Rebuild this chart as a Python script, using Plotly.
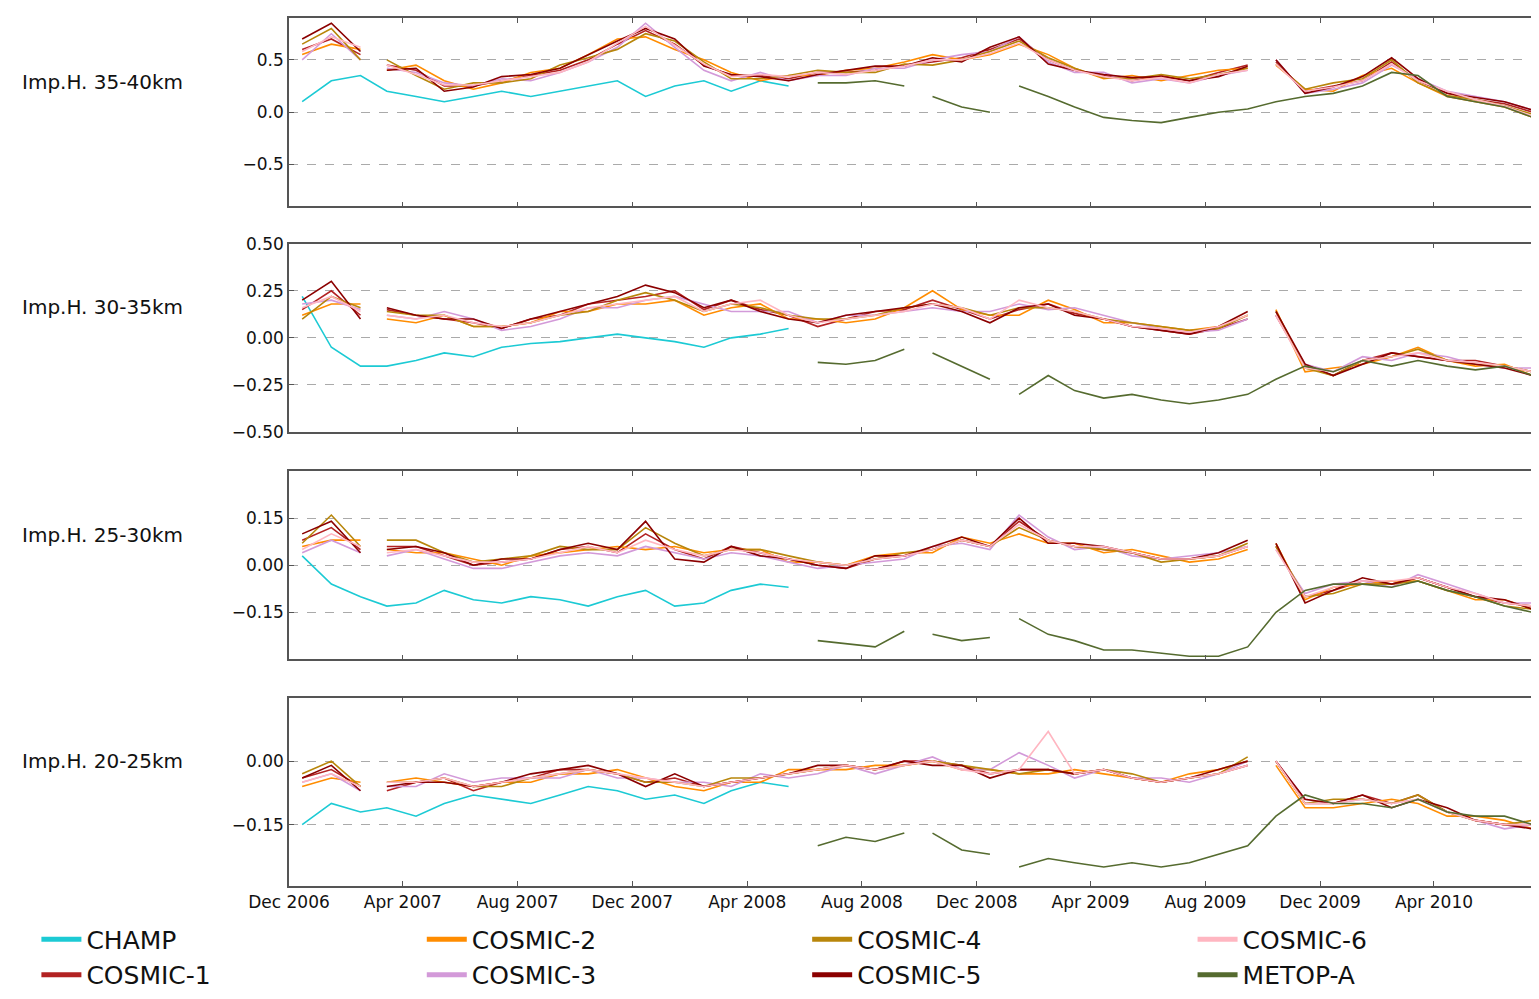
import datetime
import plotly.graph_objects as go

# monthly sample dates, Dec 2006 .. Jul 2010 (44 months)
DATES = []
for i in range(44):
    m = 11 + i
    DATES.append(datetime.date(2006 + m // 12, m % 12 + 1, 15).isoformat())

# data gaps (no observations)
COSMIC_GAPS = ['2007-03-01', '2009-09-28']
METOP_GAPS = ['2008-09-25', '2009-01-01']

PANEL_LABELS = ['Imp.H. 35-40km', 'Imp.H. 30-35km', 'Imp.H. 25-30km', 'Imp.H. 20-25km']
NAMES = ['CHAMP', 'COSMIC-1', 'COSMIC-2', 'COSMIC-3', 'COSMIC-4', 'COSMIC-5', 'COSMIC-6', 'METOP-A']
COLORS = ['#1ccad4', '#b22222', '#ff8c00', '#d39ad9', '#b8860b', '#8b0000', '#ffb6c1', '#556b2f']
LEGEND_COLUMNS = [['CHAMP', 'COSMIC-1'], ['COSMIC-2', 'COSMIC-3'], ['COSMIC-4', 'COSMIC-5'], ['COSMIC-6', 'METOP-A']]

# ---- panel 1: 35-40 km
P1_CHAMP = [0.10, 0.30, 0.35, 0.20, 0.15, 0.10, 0.15, 0.20, 0.15, 0.20, 0.25, 0.30, 0.15, 0.25, 0.30, 0.20, 0.30, 0.25]
P1_C1 = [0.60, 0.70, 0.55, 0.45, 0.40, 0.25, 0.25, 0.30, 0.35, 0.40, 0.50, 0.65, 0.78, 0.65, 0.45, 0.35, 0.35, 0.32, 0.38, 0.38, 0.40, 0.45, 0.48, 0.52, 0.60, 0.70, 0.50, 0.40, 0.35, 0.30, 0.35, 0.30, 0.38, 0.45, 0.48, 0.20, 0.25, 0.30, 0.48, 0.30, 0.18, 0.12, 0.08, 0.00]
P1_C2 = [0.55, 0.65, 0.60, 0.40, 0.45, 0.30, 0.22, 0.28, 0.38, 0.42, 0.55, 0.70, 0.72, 0.60, 0.50, 0.38, 0.30, 0.35, 0.35, 0.40, 0.42, 0.48, 0.55, 0.50, 0.55, 0.65, 0.55, 0.42, 0.32, 0.35, 0.30, 0.35, 0.40, 0.42, 0.45, 0.22, 0.20, 0.35, 0.42, 0.28, 0.15, 0.10, 0.05, -0.05]
P1_C3 = [0.50, 0.75, 0.50, 0.42, 0.38, 0.28, 0.25, 0.32, 0.30, 0.38, 0.48, 0.62, 0.85, 0.62, 0.40, 0.30, 0.38, 0.30, 0.35, 0.35, 0.42, 0.42, 0.50, 0.55, 0.58, 0.72, 0.48, 0.38, 0.38, 0.28, 0.32, 0.28, 0.35, 0.40, 0.50, 0.18, 0.22, 0.28, 0.45, 0.32, 0.20, 0.15, 0.10, 0.02]
P1_C4 = [0.65, 0.80, 0.50, 0.50, 0.35, 0.22, 0.28, 0.28, 0.32, 0.45, 0.52, 0.60, 0.75, 0.68, 0.48, 0.32, 0.32, 0.35, 0.40, 0.38, 0.38, 0.46, 0.45, 0.50, 0.58, 0.68, 0.52, 0.42, 0.33, 0.32, 0.36, 0.32, 0.36, 0.42, 0.46, 0.22, 0.28, 0.32, 0.50, 0.28, 0.16, 0.12, 0.06, -0.02]
P1_C5 = [0.70, 0.85, 0.58, 0.40, 0.42, 0.20, 0.24, 0.34, 0.36, 0.42, 0.55, 0.68, 0.80, 0.70, 0.44, 0.36, 0.34, 0.30, 0.36, 0.40, 0.44, 0.44, 0.52, 0.48, 0.62, 0.72, 0.46, 0.40, 0.36, 0.33, 0.34, 0.30, 0.34, 0.44, 0.50, 0.18, 0.24, 0.34, 0.52, 0.32, 0.18, 0.14, 0.10, 0.02]
P1_C6 = [0.58, 0.72, 0.62, 0.45, 0.36, 0.26, 0.26, 0.30, 0.34, 0.38, 0.48, 0.66, 0.82, 0.64, 0.46, 0.34, 0.36, 0.34, 0.38, 0.36, 0.40, 0.44, 0.50, 0.50, 0.56, 0.66, 0.50, 0.40, 0.34, 0.30, 0.33, 0.28, 0.36, 0.40, 0.46, 0.20, 0.24, 0.30, 0.46, 0.30, 0.20, 0.12, 0.06, -0.04]
P1_METOP = [0.28, 0.28, 0.30, 0.25, 0.15, 0.05, 0.00, 0.25, 0.15, 0.05, -0.05, -0.08, -0.10, -0.05, 0.00, 0.03, 0.10, 0.15, 0.18, 0.25, 0.38, 0.35, 0.15, 0.10, 0.05, -0.05]

# ---- panel 2: 30-35 km
P2_CHAMP = [0.22, -0.05, -0.15, -0.15, -0.12, -0.08, -0.10, -0.05, -0.03, -0.02, 0.00, 0.02, 0.00, -0.02, -0.05, 0.00, 0.02, 0.05]
P2_C1 = [0.15, 0.25, 0.12, 0.15, 0.12, 0.10, 0.08, 0.05, 0.10, 0.12, 0.18, 0.20, 0.22, 0.25, 0.15, 0.20, 0.15, 0.12, 0.06, 0.10, 0.14, 0.15, 0.20, 0.15, 0.10, 0.15, 0.18, 0.13, 0.10, 0.06, 0.04, 0.02, 0.05, 0.10, 0.12, -0.15, -0.20, -0.12, -0.08, -0.10, -0.12, -0.12, -0.15, -0.18]
P2_C2 = [0.12, 0.18, 0.18, 0.10, 0.08, 0.12, 0.06, 0.06, 0.08, 0.14, 0.14, 0.18, 0.18, 0.20, 0.12, 0.16, 0.18, 0.10, 0.10, 0.08, 0.10, 0.16, 0.25, 0.15, 0.12, 0.12, 0.20, 0.15, 0.08, 0.08, 0.06, 0.04, 0.06, 0.12, 0.15, -0.18, -0.16, -0.14, -0.10, -0.05, -0.12, -0.15, -0.14, -0.20]
P2_C3 = [0.18, 0.20, 0.15, 0.12, 0.10, 0.14, 0.10, 0.04, 0.06, 0.10, 0.16, 0.16, 0.20, 0.22, 0.18, 0.14, 0.14, 0.14, 0.08, 0.12, 0.12, 0.14, 0.16, 0.14, 0.14, 0.18, 0.15, 0.16, 0.12, 0.08, 0.05, 0.03, 0.04, 0.10, 0.12, -0.14, -0.18, -0.10, -0.12, -0.08, -0.10, -0.14, -0.16, -0.16]
P2_C4 = [0.10, 0.22, 0.16, 0.14, 0.12, 0.12, 0.06, 0.06, 0.08, 0.12, 0.14, 0.20, 0.24, 0.20, 0.14, 0.18, 0.16, 0.12, 0.10, 0.10, 0.12, 0.16, 0.18, 0.16, 0.12, 0.16, 0.16, 0.14, 0.10, 0.08, 0.06, 0.04, 0.05, 0.12, 0.14, -0.16, -0.20, -0.12, -0.10, -0.06, -0.12, -0.14, -0.15, -0.18]
P2_C5 = [0.20, 0.30, 0.10, 0.16, 0.12, 0.10, 0.10, 0.05, 0.10, 0.14, 0.18, 0.22, 0.28, 0.24, 0.16, 0.20, 0.14, 0.10, 0.08, 0.12, 0.14, 0.16, 0.18, 0.14, 0.08, 0.16, 0.18, 0.12, 0.10, 0.06, 0.04, 0.02, 0.06, 0.14, 0.14, -0.14, -0.20, -0.14, -0.08, -0.10, -0.12, -0.14, -0.16, -0.20]
P2_C6 = [0.16, 0.22, 0.14, 0.12, 0.10, 0.12, 0.08, 0.06, 0.08, 0.12, 0.16, 0.18, 0.20, 0.22, 0.14, 0.18, 0.20, 0.12, 0.08, 0.10, 0.12, 0.14, 0.18, 0.16, 0.10, 0.20, 0.16, 0.14, 0.10, 0.06, 0.05, 0.03, 0.06, 0.12, 0.12, -0.16, -0.18, -0.12, -0.10, -0.08, -0.12, -0.13, -0.15, -0.18]
P2_METOP = [-0.13, -0.14, -0.12, -0.06, -0.08, -0.15, -0.22, -0.30, -0.20, -0.28, -0.32, -0.30, -0.33, -0.35, -0.33, -0.30, -0.22, -0.15, -0.18, -0.12, -0.15, -0.12, -0.15, -0.17, -0.15, -0.20]

# ---- panel 3: 25-30 km
P3_CHAMP = [0.03, -0.06, -0.10, -0.13, -0.12, -0.08, -0.11, -0.12, -0.10, -0.11, -0.13, -0.10, -0.08, -0.13, -0.12, -0.08, -0.06, -0.07]
P3_C1 = [0.08, 0.12, 0.05, 0.06, 0.06, 0.03, 0.00, 0.01, 0.02, 0.05, 0.06, 0.04, 0.10, 0.05, 0.02, 0.06, 0.04, 0.02, 0.00, -0.01, 0.02, 0.03, 0.05, 0.08, 0.06, 0.14, 0.08, 0.06, 0.05, 0.04, 0.02, 0.02, 0.03, 0.06, 0.06, -0.10, -0.08, -0.05, -0.06, -0.04, -0.07, -0.10, -0.12, -0.13]
P3_C2 = [0.06, 0.08, 0.08, 0.05, 0.04, 0.04, 0.02, 0.00, 0.03, 0.04, 0.05, 0.06, 0.05, 0.06, 0.04, 0.05, 0.05, 0.01, 0.01, 0.00, 0.03, 0.04, 0.04, 0.09, 0.07, 0.10, 0.07, 0.07, 0.04, 0.05, 0.03, 0.01, 0.02, 0.05, 0.07, -0.11, -0.07, -0.06, -0.05, -0.05, -0.08, -0.11, -0.11, -0.14]
P3_C3 = [0.04, 0.08, 0.04, 0.03, 0.05, 0.02, -0.01, -0.01, 0.01, 0.03, 0.04, 0.03, 0.06, 0.04, 0.02, 0.04, 0.03, 0.01, -0.01, 0.00, 0.01, 0.02, 0.06, 0.07, 0.05, 0.16, 0.09, 0.05, 0.06, 0.03, 0.02, 0.03, 0.04, 0.06, 0.05, -0.09, -0.06, -0.05, -0.07, -0.03, -0.06, -0.09, -0.12, -0.12]
P3_C4 = [0.07, 0.16, 0.06, 0.08, 0.08, 0.04, 0.01, 0.02, 0.03, 0.06, 0.05, 0.05, 0.12, 0.07, 0.03, 0.05, 0.05, 0.03, 0.01, 0.00, 0.02, 0.04, 0.05, 0.08, 0.06, 0.12, 0.08, 0.06, 0.05, 0.04, 0.01, 0.02, 0.03, 0.07, 0.06, -0.10, -0.09, -0.06, -0.06, -0.05, -0.08, -0.10, -0.13, -0.14]
P3_C5 = [0.10, 0.14, 0.04, 0.05, 0.06, 0.04, 0.00, 0.02, 0.02, 0.05, 0.07, 0.05, 0.14, 0.02, 0.01, 0.06, 0.03, 0.02, 0.00, -0.01, 0.03, 0.03, 0.06, 0.09, 0.06, 0.15, 0.07, 0.07, 0.06, 0.04, 0.02, 0.02, 0.04, 0.08, 0.07, -0.12, -0.08, -0.04, -0.06, -0.04, -0.07, -0.10, -0.11, -0.14]
P3_C6 = [0.05, 0.10, 0.06, 0.04, 0.05, 0.03, 0.01, 0.01, 0.02, 0.04, 0.06, 0.04, 0.08, 0.05, 0.03, 0.05, 0.04, 0.02, 0.01, 0.00, 0.02, 0.03, 0.05, 0.08, 0.06, 0.13, 0.08, 0.06, 0.06, 0.04, 0.02, 0.02, 0.03, 0.06, 0.05, -0.10, -0.07, -0.05, -0.05, -0.04, -0.07, -0.09, -0.12, -0.13]
P3_METOP = [-0.24, -0.25, -0.26, -0.21, -0.22, -0.24, -0.23, -0.17, -0.22, -0.24, -0.27, -0.27, -0.28, -0.29, -0.29, -0.26, -0.15, -0.08, -0.06, -0.06, -0.07, -0.05, -0.08, -0.10, -0.13, -0.15]

# ---- panel 4: 20-25 km
P4_CHAMP = [-0.15, -0.10, -0.12, -0.11, -0.13, -0.10, -0.08, -0.09, -0.10, -0.08, -0.06, -0.07, -0.09, -0.08, -0.10, -0.07, -0.05, -0.06]
P4_C1 = [-0.04, -0.02, -0.06, -0.07, -0.05, -0.04, -0.07, -0.05, -0.04, -0.02, -0.02, -0.03, -0.05, -0.04, -0.06, -0.05, -0.04, -0.03, -0.02, -0.01, -0.02, 0.00, 0.00, -0.01, -0.03, -0.02, -0.02, -0.03, -0.02, -0.04, -0.05, -0.04, -0.03, -0.01, 0.00, -0.10, -0.10, -0.08, -0.10, -0.08, -0.12, -0.14, -0.15, -0.15]
P4_C2 = [-0.06, -0.04, -0.05, -0.05, -0.04, -0.05, -0.06, -0.05, -0.05, -0.03, -0.03, -0.02, -0.04, -0.06, -0.07, -0.05, -0.05, -0.02, -0.02, -0.02, -0.01, -0.01, 0.00, -0.02, -0.02, -0.03, -0.03, -0.02, -0.03, -0.04, -0.05, -0.03, -0.02, 0.00, -0.01, -0.11, -0.11, -0.10, -0.09, -0.10, -0.13, -0.13, -0.14, -0.16]
P4_C3 = [-0.05, -0.03, -0.07, -0.06, -0.06, -0.03, -0.05, -0.04, -0.04, -0.04, -0.02, -0.04, -0.04, -0.05, -0.05, -0.06, -0.03, -0.04, -0.03, -0.01, -0.03, -0.01, 0.01, -0.02, -0.02, 0.02, -0.01, -0.04, -0.02, -0.04, -0.04, -0.05, -0.03, 0.00, 0.00, -0.09, -0.10, -0.09, -0.10, -0.09, -0.12, -0.14, -0.16, -0.15]
P4_C4 = [-0.03, 0.00, -0.06, -0.05, -0.05, -0.04, -0.06, -0.06, -0.04, -0.03, -0.02, -0.03, -0.05, -0.05, -0.06, -0.04, -0.04, -0.03, -0.02, -0.01, -0.02, -0.01, 0.00, -0.01, -0.02, -0.03, -0.02, -0.03, -0.02, -0.03, -0.05, -0.04, -0.03, 0.01, 0.00, -0.10, -0.09, -0.09, -0.10, -0.08, -0.12, -0.14, -0.15, -0.14]
P4_C5 = [-0.04, -0.01, -0.07, -0.06, -0.05, -0.05, -0.06, -0.05, -0.03, -0.02, -0.01, -0.03, -0.06, -0.03, -0.06, -0.05, -0.04, -0.03, -0.01, -0.01, -0.02, 0.00, -0.01, -0.01, -0.04, -0.02, -0.02, -0.03, -0.02, -0.04, -0.05, -0.04, -0.02, 0.00, 0.00, -0.09, -0.10, -0.08, -0.11, -0.09, -0.11, -0.14, -0.15, -0.16]
P4_C6 = [-0.05, -0.03, -0.06, -0.05, -0.05, -0.04, -0.06, -0.05, -0.04, -0.03, -0.02, -0.03, -0.04, -0.05, -0.06, -0.05, -0.04, -0.03, -0.02, -0.01, -0.02, -0.01, 0.00, -0.02, -0.03, -0.02, 0.07, -0.03, -0.02, -0.04, -0.05, -0.04, -0.03, -0.01, 0.00, -0.10, -0.10, -0.09, -0.10, -0.09, -0.12, -0.14, -0.15, -0.15]
P4_METOP = [-0.20, -0.18, -0.19, -0.17, -0.17, -0.21, -0.22, -0.25, -0.23, -0.24, -0.25, -0.24, -0.25, -0.24, -0.22, -0.20, -0.13, -0.08, -0.10, -0.10, -0.11, -0.09, -0.12, -0.13, -0.13, -0.15]

PANELS = [
    [P1_CHAMP, P1_C1, P1_C2, P1_C3, P1_C4, P1_C5, P1_C6, P1_METOP],
    [P2_CHAMP, P2_C1, P2_C2, P2_C3, P2_C4, P2_C5, P2_C6, P2_METOP],
    [P3_CHAMP, P3_C1, P3_C2, P3_C3, P3_C4, P3_C5, P3_C6, P3_METOP],
    [P4_CHAMP, P4_C1, P4_C2, P4_C3, P4_C4, P4_C5, P4_C6, P4_METOP],
]
Y_RANGES = [[-0.9, 0.9], [-0.5, 0.5], [-0.3, 0.3], [-0.295, 0.15]]
Y_TICKS = [[-0.5, 0.0, 0.5], [-0.5, -0.25, 0.0, 0.25, 0.5], [-0.15, 0.0, 0.15], [-0.15, 0.0]]
Y_FORMATS = ['.1f', '.2f', '.2f', '.2f']
DOMAINS = [[0.783, 1.0], [0.523, 0.740], [0.261, 0.478], [0.0, 0.217]]

MARGIN_L = 281


def with_gaps(xs, ys, gaps):
    # insert a None point at each gap date so the line breaks there
    pts = list(zip(xs, ys)) + [(g, None) for g in gaps if xs[0] < g < xs[-1]]
    pts.sort(key=lambda t: t[0])
    return [p[0] for p in pts], [p[1] for p in pts]


fig = go.Figure()
for p, series in enumerate(PANELS):
    ya = 'y' if p == 0 else 'y%d' % (p + 1)
    xa = 'x' if p == 0 else 'x%d' % (p + 1)
    for k, vals in enumerate(series):
        if k == 0:
            xs, ys = DATES[:len(vals)], vals
        elif k == 7:
            xs, ys = with_gaps(DATES[44 - len(vals):], vals, METOP_GAPS)
        else:
            xs, ys = with_gaps(DATES, vals, COSMIC_GAPS)
        fig.add_trace(go.Scatter(x=xs, y=ys, mode='lines', name=NAMES[k], xaxis=xa, yaxis=ya,
                                 line=dict(color=COLORS[k], width=1.6), showlegend=False))

# legend entries: four columns of two, thick swatches
for c, col in enumerate(LEGEND_COLUMNS):
    for name in col:
        fig.add_trace(go.Scatter(x=[None], y=[None], mode='lines', name=name,
                                 line=dict(color=COLORS[NAMES.index(name)], width=5),
                                 legend='legend' if c == 0 else 'legend%d' % (c + 1)))

plot_w = 1539 - MARGIN_L
axis_common = dict(showline=True, linecolor='#555555', linewidth=1.5, mirror='ticks', ticks='inside',
                   ticklen=5, tickcolor='#555555', zeroline=False)
layout = {}
for p in range(4):
    sfx = '' if p == 0 else str(p + 1)
    layout['xaxis' + sfx] = dict(axis_common, range=['2006-12-01', '2010-07-28'], showgrid=False,
                                 tick0='2006-12-01', dtick='M4', tickformat='%b %Y',
                                 showticklabels=(p == 3), anchor='y' + sfx,
                                 matches=None if p == 0 else 'x',
                                 tickfont=dict(size=17, color='#111'))
    layout['yaxis' + sfx] = dict(axis_common, range=Y_RANGES[p], domain=DOMAINS[p], anchor='x' + sfx,
                                 tickvals=Y_TICKS[p], tickformat=Y_FORMATS[p], showgrid=True,
                                 gridcolor='#aaaaaa', griddash='dash', gridwidth=1,
                                 tickfont=dict(size=17, color='#111'))
    leg = dict(orientation='v', x=(28 + 386 * p - MARGIN_L) / plot_w, xanchor='left', y=-0.035, yanchor='top',
               font=dict(size=25), tracegroupgap=0, itemwidth=40, bgcolor='rgba(0,0,0,0)')
    layout['legend' if p == 0 else 'legend%d' % (p + 1)] = leg
fig.update_layout(**layout)

for p, label in enumerate(PANEL_LABELS):
    fig.add_annotation(text=label, xref='paper', yref='paper', x=(12 - MARGIN_L) / plot_w, xanchor='left',
                       y=sum(DOMAINS[p]) / 2 + 0.035, yanchor='middle', showarrow=False,
                       font=dict(size=20, color='#111'))

fig.update_layout(
    width=1539, height=999, paper_bgcolor='white', plot_bgcolor='white',
    margin=dict(l=MARGIN_L, r=0, t=3, b=121),
    font=dict(family='DejaVu Sans', color='#111'),
)
fig.write_html('out.html')
